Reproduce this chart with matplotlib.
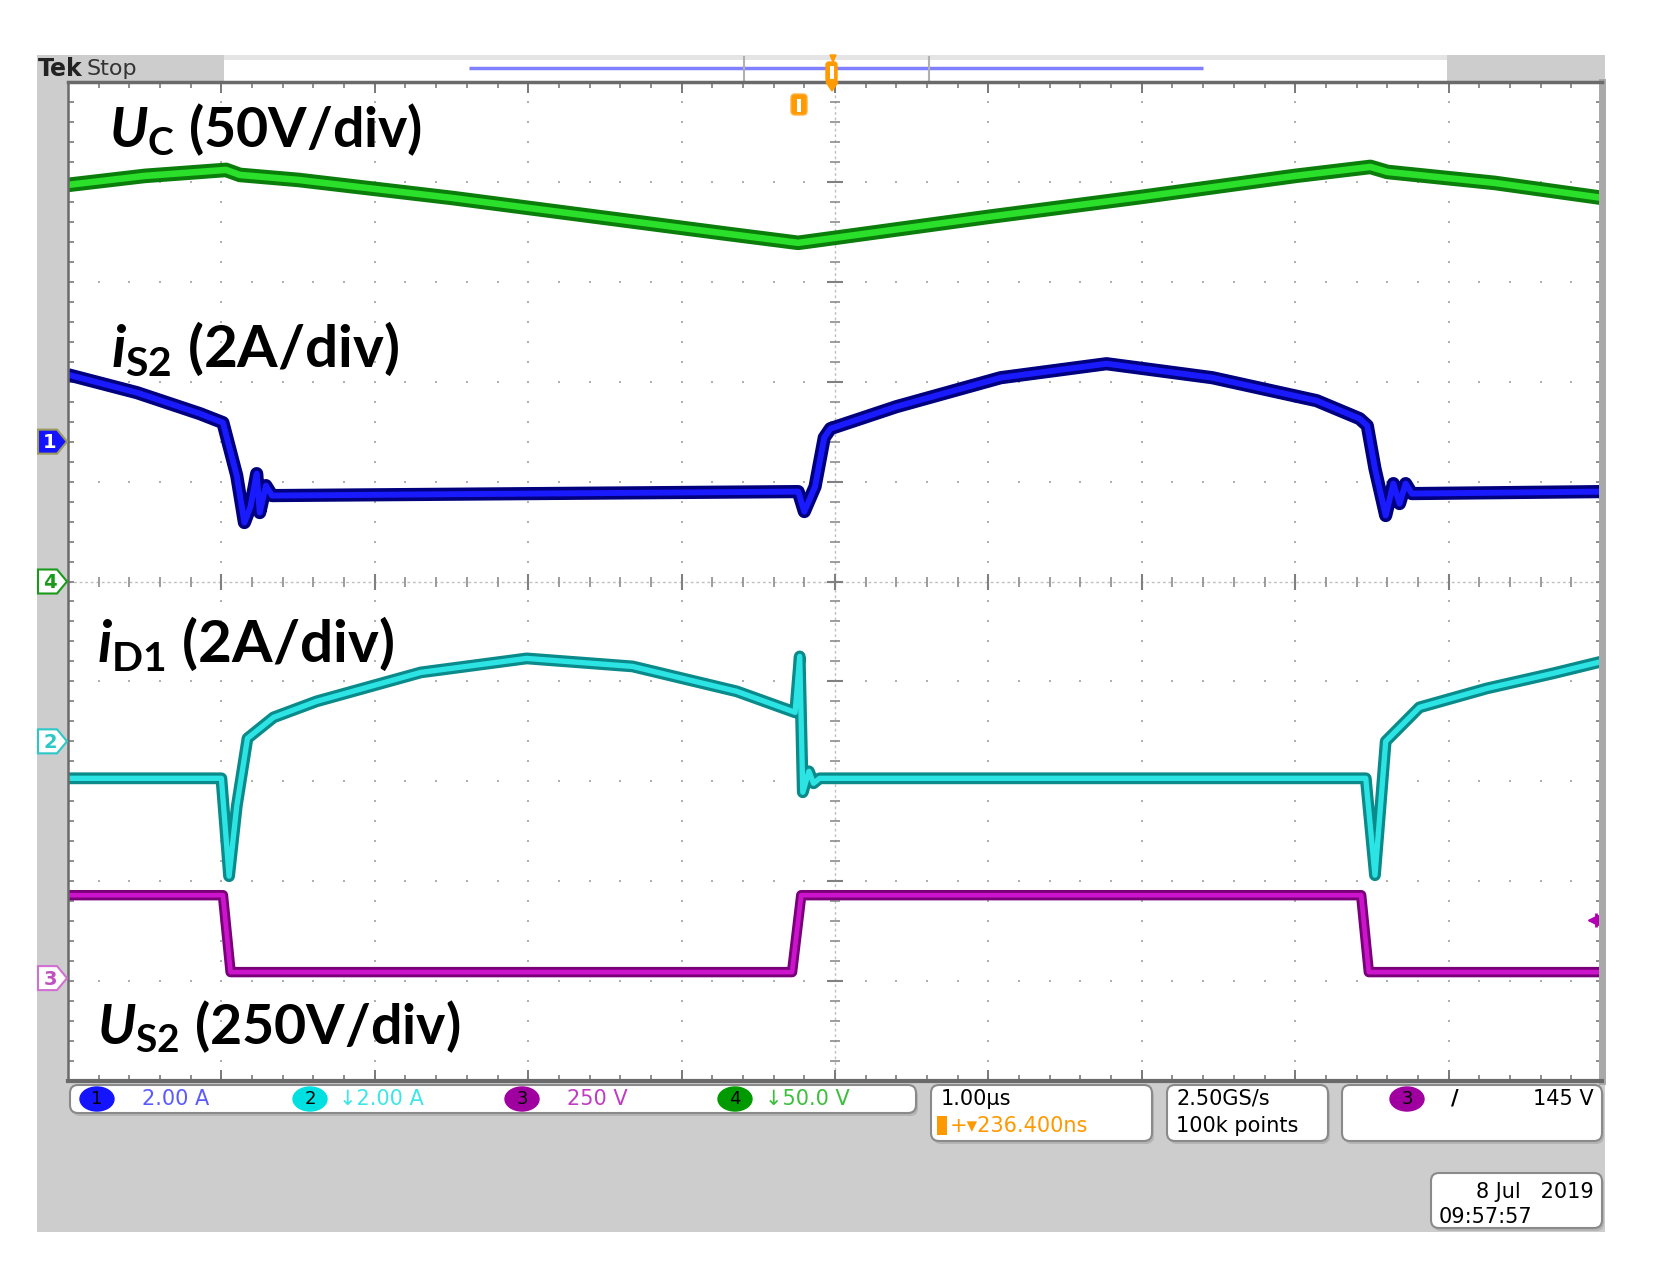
import numpy as np
import matplotlib
matplotlib.use("Agg")
import matplotlib.pyplot as plt
from matplotlib.patches import Rectangle, FancyBboxPatch, Polygon, Ellipse

W, H = 1654, 1270

# screen in divisions: x = time (1.00 us/div), y = 0..10 from bottom
uc_x = [0, 0.5, 1.03, 1.12, 1.5, 2.5, 3.5, 4.3, 4.76, 5.0, 6.0, 7.0, 8.0, 8.49, 8.6, 9.3, 10]
uc_y = [8.97, 9.06, 9.12, 9.07, 9.02, 8.84, 8.64, 8.48, 8.39, 8.44, 8.65, 8.85, 9.06, 9.15, 9.10, 8.99, 8.84]

is2_x = [0, 0.45, 0.86, 1.01, 1.10, 1.15, 1.19, 1.23, 1.25, 1.29, 1.33, 4.76, 4.80, 4.87, 4.93, 4.97,
         5.4, 6.08, 6.77, 7.46, 8.14, 8.42, 8.47, 8.52, 8.59, 8.64, 8.68, 8.72, 8.76, 10]
is2_y = [7.07, 6.89, 6.68, 6.59, 6.06, 5.59, 5.75, 6.08, 5.69, 5.96, 5.86, 5.90, 5.70, 5.95, 6.44, 6.53,
         6.75, 7.04, 7.18, 7.04, 6.81, 6.63, 6.56, 6.13, 5.66, 5.98, 5.78, 5.98, 5.88, 5.90]

id1_x = [0, 1.0, 1.05, 1.10, 1.17, 1.34, 1.62, 2.30, 2.99, 3.68, 4.36, 4.74, 4.77, 4.79, 4.83, 4.86, 4.9,
         8.46, 8.52, 8.55, 8.59, 8.81, 9.25, 9.68, 10]
id1_y = [3.03, 3.03, 2.05, 2.75, 3.43, 3.64, 3.80, 4.09, 4.23, 4.15, 3.90, 3.69, 4.25, 2.89, 3.10, 2.98, 3.03,
         3.03, 2.06, 2.63, 3.40, 3.74, 3.93, 4.08, 4.20]

us2_x = [0, 1.01, 1.06, 4.72, 4.78, 8.43, 8.48, 10]
us2_y = [1.86, 1.86, 1.09, 1.09, 1.86, 1.86, 1.09, 1.09]

ch_names = ["1", "2", "3", "4"]
ch_levels = [6.40, 3.40, 1.03, 5.00]
ch_scale_text = ["2.00 A", "\u21932.00 A", "250 V", "\u219350.0 V"]
trig_level = 145.0
ch3_scale = 250.0

labels = [r"$U_{\mathrm{C}}$ (50V/div)", r"$i_{\mathrm{S2}}$ (2A/div)",
          r"$i_{\mathrm{D1}}$ (2A/div)", r"$U_{\mathrm{S2}}$ (250V/div)"]

plt.rcParams['mathtext.fontset'] = 'custom'
plt.rcParams['mathtext.it'] = 'Lato:italic:bold'
plt.rcParams['mathtext.rm'] = 'Lato:bold'
plt.rcParams['mathtext.bf'] = 'Lato:bold'

# plot area in pixels
L, T, R, B = 68, 82, 1602, 1081
dw, dh = (R - L) / 10.0, (B - T) / 10.0

fig = plt.figure(figsize=(W / 100, H / 100), dpi=100)
fig.patch.set_facecolor("white")

bg = fig.add_axes([0, 0, 1, 1], zorder=0)
bg.set_xlim(0, W)
bg.set_ylim(H, 0)
bg.axis("off")

bg.add_patch(Rectangle((37, 55), 1568, 1177, color="#cdcdcd", lw=0))
bg.add_patch(Rectangle((224, 55), 1223, 5, color="#e4e4e4", lw=0))
bg.add_patch(Rectangle((224, 60), 1223, 22, color="white", lw=0))
bg.plot([469, 1203], [68, 68], color="#7f7fff", lw=2.5, solid_capstyle="butt")
for xx in [744, 929]:
    bg.plot([xx, xx], [57, 80], color="#b0b0b0", lw=1.5)
bg.text(38, 69, "Tek", fontsize=17, fontweight="bold", color="#222222", va="center")
bg.text(86, 69, "Stop", fontsize=16, color="#333333", va="center")


def box(x0, y0, x1, y1):
    bg.add_patch(FancyBboxPatch((x0 + 2, y0 + 3), x1 - x0, y1 - y0,
                                boxstyle="round,pad=0,rounding_size=8", fc="#b4b4b4", ec="none"))
    bg.add_patch(FancyBboxPatch((x0, y0), x1 - x0, y1 - y0,
                                boxstyle="round,pad=0,rounding_size=8", fc="white", ec="#8a8a8a", lw=1.5))


box(70, 1085, 916, 1113)
box(931, 1085, 1152, 1141)
box(1167, 1085, 1328, 1141)
box(1342, 1085, 1602, 1141)
box(1431, 1173, 1602, 1228)

badge_col = ["#1414ff", "#00e0e0", "#a000a0", "#009a00"]
text_col = ["#5a5aff", "#3fe6e6", "#c03cc0", "#3cbf3c"]
badge_x = [97, 310, 522, 735]
text_x = [142, 339, 567, 765]
sfont = dict(fontsize=15, family="DejaVu Sans", va="center")
for i in range(4):
    bg.add_patch(Ellipse((badge_x[i], 1099), 34, 24, color=badge_col[i]))
    bg.text(badge_x[i], 1099, ch_names[i], ha="center", color="black", fontsize=13, va="center")
    bg.text(text_x[i], 1099, ch_scale_text[i], color=text_col[i], **sfont)

bg.text(941, 1099, "1.00\u00b5s", color="black", **sfont)
bg.add_patch(Rectangle((937, 1116), 10, 19, color="#ff9900", lw=0))
bg.text(950, 1126, "+\u25be236.400ns", color="#ff9900", **sfont)
bg.text(1176, 1099, "2.50GS/s", color="black", **sfont)
bg.text(1176, 1126, "100k points", color="black", **sfont)
bg.add_patch(Ellipse((1407, 1099), 34, 24, color="#a000a0"))
bg.text(1407, 1099, "3", ha="center", color="black", fontsize=13, va="center")
bg.text(1455, 1099, "/", color="black", fontsize=15, fontweight="bold", va="center", ha="center")
bg.text(1594, 1099, "%d V" % trig_level, color="black", ha="right", fontsize=15, va="center")
bg.text(1594, 1192, "8 Jul   2019", color="black", ha="right", fontsize=15, va="center")
bg.text(1439, 1217, "09:57:57", color="black", fontsize=15, va="center")

# graticule + traces
ax = fig.add_axes([L / W, 1 - B / H, (R - L) / W, (B - T) / H], zorder=1)
ax.set_xlim(0, 10)
ax.set_ylim(0, 10)
ax.set_facecolor("white")
ax.set_xticks([])
ax.set_yticks([])
for s in ["top", "bottom", "left"]:
    ax.spines[s].set_color("#6a6a6a")
ax.spines["top"].set_linewidth(2.5)
ax.spines["bottom"].set_linewidth(3)
ax.spines["left"].set_linewidth(1.8)
ax.spines["right"].set_color("#a9a9a9")
ax.spines["right"].set_linewidth(5)

minor = np.arange(0, 10.001, 0.2)
for i in range(1, 10):
    if i == 5:
        continue
    ax.plot([i] * len(minor), minor, ls="none", marker="s", ms=1.6, mew=0, color="#b0b0b0")
    ax.plot(minor, [i] * len(minor), ls="none", marker="s", ms=1.6, mew=0, color="#b0b0b0")
ax.axvline(5, color="#c0c0c0", lw=1, ls=(0, (2, 2)))
ax.axhline(5, color="#c0c0c0", lw=1, ls=(0, (2, 2)))
ax.plot([5] * len(minor), minor, ls="none", marker="_", ms=7, mew=1.2, color="#8c8c8c")
ax.plot(minor, [5] * len(minor), ls="none", marker="|", ms=7, mew=1.2, color="#8c8c8c")
major = np.arange(0, 11, 1)
ax.plot([5] * len(major), major, ls="none", marker="_", ms=11, mew=1.5, color="#808080")
ax.plot(major, [5] * len(major), ls="none", marker="|", ms=11, mew=1.5, color="#808080")
for edge in [0, 10]:
    ax.plot(minor, [edge] * len(minor), ls="none", marker="|", ms=9, mew=1.2, color="#7a7a7a")
    ax.plot([edge] * len(minor), minor, ls="none", marker="_", ms=9, mew=1.2, color="#7a7a7a")
    ax.plot(major, [edge] * len(major), ls="none", marker="|", ms=16, mew=1.4, color="#7a7a7a")


def trace(x, y, dark, light, lw):
    ax.plot(x, y, color=dark, lw=lw, solid_joinstyle="round", solid_capstyle="butt")
    ax.plot(x, y, color=light, lw=lw * 0.45, solid_joinstyle="round", solid_capstyle="butt")


trace(uc_x, uc_y, "#0b7d0b", "#2ae02a", 10.5)
trace(is2_x, is2_y, "#00007e", "#1a1aff", 9.5)
trace(id1_x, id1_y, "#0a8a8a", "#2ce4e4", 8.5)
trace(us2_x, us2_y, "#7a007a", "#cc14cc", 7.5)

trig_y = ch_levels[2] + trig_level / ch3_scale
ax.plot([9.94], [trig_y], marker="<", ms=7, color="#b000b0", ls="none")
ax.plot([9.96], [trig_y], marker="+", ms=10, mew=2, color="#b000b0", ls="none")

# overlay: labels, channel markers, trigger marks
fg = fig.add_axes([0, 0, 1, 1], zorder=2)
fg.set_xlim(0, W)
fg.set_ylim(H, 0)
fg.axis("off")
fg.patch.set_alpha(0)

lab_x = [109, 111, 97, 97]
lab_y = [147, 367, 662, 1044]
lab_size = [40, 42, 42, 40]
for i, s in enumerate(labels):
    fg.text(lab_x[i], lab_y[i], s, fontsize=lab_size[i], family="Lato", fontweight="bold",
            color="black", va="baseline", ha="left")

mark_fill = ["#1414ff", "white", "white", "white"]
mark_edge = ["#9a9a60", "#2cc8c8", "#d070d0", "#1a9a1a"]
mark_txt = ["white", "#2cc8c8", "#c050c0", "#1a9a1a"]
for i in range(4):
    py = T + (10 - ch_levels[i]) * dh
    pts = [(38, py - 12), (57, py - 12), (67, py), (57, py + 12), (38, py + 12)]
    fg.add_patch(Polygon(pts, closed=True, fc=mark_fill[i], ec=mark_edge[i], lw=1.5))
    fg.text(50, py + 1, ch_names[i], color=mark_txt[i], fontsize=14, fontweight="bold",
            ha="center", va="center")

# trigger position markers (orange)
fg.add_patch(FancyBboxPatch((826, 62), 11, 20, boxstyle="round,pad=0,rounding_size=3",
                            fc="#ff9a00", ec="#ff9a00"))
fg.add_patch(Rectangle((829.5, 66), 4, 13, color="white", lw=0))
fg.add_patch(Polygon([(826, 82), (838, 82), (832, 91)], closed=True, color="#ff9a00"))
fg.add_patch(Polygon([(830, 55), (836, 55), (833, 62)], closed=True, color="#ff9a00"))
fg.add_patch(FancyBboxPatch((791, 94), 16, 21, boxstyle="round,pad=0,rounding_size=4",
                            fc="#ff9a00", ec="#ffb040", lw=1))
fg.add_patch(Rectangle((797, 99), 4, 13, color="white", lw=0))

fig.savefig("out.png", dpi=100)
